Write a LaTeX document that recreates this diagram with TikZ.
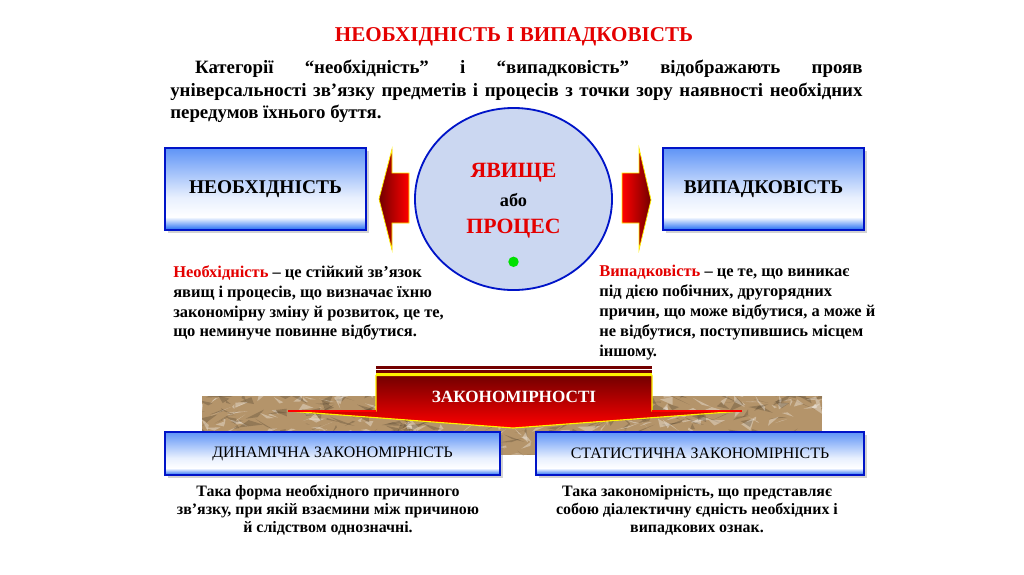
\documentclass[tikz,border=0pt]{standalone}
\usepackage{fontspec}
\setmainfont{Liberation Serif}
\usetikzlibrary{positioning, shapes.geometric, shadows, calc}

\definecolor{boxblue}{RGB}{60,125,245}
\definecolor{boxedge}{RGB}{0,20,200}
\definecolor{textred}{RGB}{228,0,0}
\definecolor{darkred}{RGB}{115,0,0}
\definecolor{paper}{RGB}{180,148,106}
\definecolor{blob}{RGB}{203,215,241}
\definecolor{dotgreen}{RGB}{0,225,0}

\pgfdeclareverticalshading{boxfade}{100bp}{color(0bp)=(boxblue); color(26bp)=(boxblue); color(33bp)=(white); color(45bp)=(boxblue!12); color(74bp)=(boxblue!80); color(100bp)=(boxblue!80)}

\begin{document}
\begin{tikzpicture}[
    x=0.025cm, y=-0.025cm,
    catbox/.style={draw=boxedge, line width=1.2pt, shading=boxfade, minimum width=5.025cm, minimum height=2.05cm, font=\fontsize{13.8}{16}\selectfont\bfseries, drop shadow={shadow xshift=2pt, shadow yshift=-2pt, opacity=0.35}},
    lawbox/.style={catbox, minimum height=1.075cm, font=\fontsize{11.3}{13}\selectfont},
    deftext/.style={anchor=north west, inner sep=0pt, align=left, font=\fontsize{11.7}{14.2}\selectfont\bfseries},
    lawtext/.style={inner sep=0pt, align=center, font=\fontsize{11.3}{12.8}\selectfont\bfseries},
    blockarrow/.style={draw=yellow, line width=0.5pt},
]
    \useasboundingbox[fill=white] (0,0) rectangle (1024,574);

    % Title and intro
    \node[text=textred, font=\fontsize{15}{17}\selectfont\bfseries] (title) at (514,37) {НЕОБХІДНІСТЬ І ВИПАДКОВІСТЬ};
    \node[anchor=north west, inner sep=0pt, text width=17.3cm, align=justify, font=\fontsize{13.4}{16}\selectfont\bfseries] (intro) at (170,60)
        {\hspace*{0.62cm}Категорії “необхідність” і “випадковість” відображають прояв\linebreak універсальності зв’язку предметів і процесів з точки зору наявності необхідних\linebreak передумов їхнього буття.};

    % Phenomenon in the middle
    \node[ellipse, draw=boxedge, line width=1.3pt, fill=blob, minimum width=4.925cm, minimum height=4.55cm] (blob) at (513.5,199) {};
    \node[font=\fontsize{13}{15}\selectfont\bfseries] (abo) at (513.5,200) {або};
    \node[text=textred, font=\fontsize{15.5}{18}\selectfont\bfseries] (yav) at ([yshift=0.675cm]abo.center) {ЯВИЩЕ};
    \node[text=textred, font=\fontsize{15.5}{18}\selectfont\bfseries] (proc) at ([yshift=-0.725cm]abo.center) {ПРОЦЕС};
    \node[circle, fill=dotgreen, inner sep=0pt, minimum size=0.26cm, below=0.32cm of proc] (dot) {};

    % Categories
    \node[catbox] (nec) at (265.5,189) {НЕОБХІДНІСТЬ};
    \node[catbox] (acc) at (763.5,189) {ВИПАДКОВІСТЬ};

    % Block arrows circle -> categories
    \path[blockarrow, left color=darkred, right color=red] (409,173) -- (392,173) -- (392,149) -- (379,199) -- (392,250) -- (392,223) -- (409,223) -- cycle;
    \path[blockarrow, left color=red, right color=darkred] (622,173) -- (639,173) -- (639,148) -- (651,200) -- (639,250) -- (639,223) -- (622,223) -- cycle;

    % Definitions
    \node[deftext] (necdef) at (173,265)
        {\textcolor{textred}{Необхідність} – це стійкий зв’язок\\ явищ і процесів, що визначає їхню\\ закономірну зміну й розвиток, це те,\\ що неминуче повинне відбутися.};
    \node[deftext] (accdef) at (599,265)
        {\textcolor{textred}{Випадковість} – це те, що виникає\\ під дією побічних, другорядних\\ причин, що може відбутися, а може й\\ не відбутися, поступившись місцем\\ іншому.};

    % Crumpled paper band
    \begin{scope}
        \clip (202,396) rectangle (822,455);
        \fill[paper] (202,396) rectangle (822,455);
        \pgfmathsetseed{11}
        \foreach \i in {1,...,300}{
            \pgfmathsetmacro\xa{196+630*rnd}
            \pgfmathsetmacro\ya{390+70*rnd}
            \fill[paper!40!black, opacity=0.3] (\xa,\ya) -- ++({30*rnd-15},{16*rnd-8}) -- ++({30*rnd-15},{16*rnd-8}) -- cycle;
            \fill[paper!25!white, opacity=0.45] (\xa+6,\ya+4) -- ++({26*rnd-13},{14*rnd-7}) -- ++({26*rnd-13},{14*rnd-7}) -- cycle;
        }
    \end{scope}

    % Regularities banner
    \fill[darkred] (376,366) rectangle (652,368.5);
    \fill[darkred] (376,370) rectangle (652,372.5);
    \draw[yellow, line width=0.8pt] (376,374) -- (652,374);
    \path[draw=yellow, line width=0.8pt, top color=darkred, bottom color=red] (376,375.5) -- (652,375.5) -- (652,411) -- (742,411) -- (513,428) -- (288,411) -- (376,411) -- cycle;
    \draw[red, line width=1pt] (288,411) -- (376,411);
    \draw[red, line width=1pt] (652,411) -- (742,411);
    \node[text=white, font=\fontsize{12.2}{14}\selectfont\bfseries] (laws) at (514,397) {ЗАКОНОМІРНОСТІ};

    % Kinds of regularities
    \node[lawbox, minimum width=8.375cm] (dyn) at (332.5,453.5) {ДИНАМІЧНА ЗАКОНОМІРНІСТЬ};
    \node[lawbox, minimum width=8.2cm] (stat) at (700,453.5) {СТАТИСТИЧНА ЗАКОНОМІРНІСТЬ};

    \node[lawtext] (dyndef) at (328,510) {Така форма необхідного причинного\\ зв’язку, при якій взаємини між причиною\\ й слідством однозначні.};
    \node[lawtext] (statdef) at (697,510) {Така закономірність, що представляє\\ собою діалектичну єдність необхідних і\\ випадкових ознак.};

\end{tikzpicture}
\end{document}
